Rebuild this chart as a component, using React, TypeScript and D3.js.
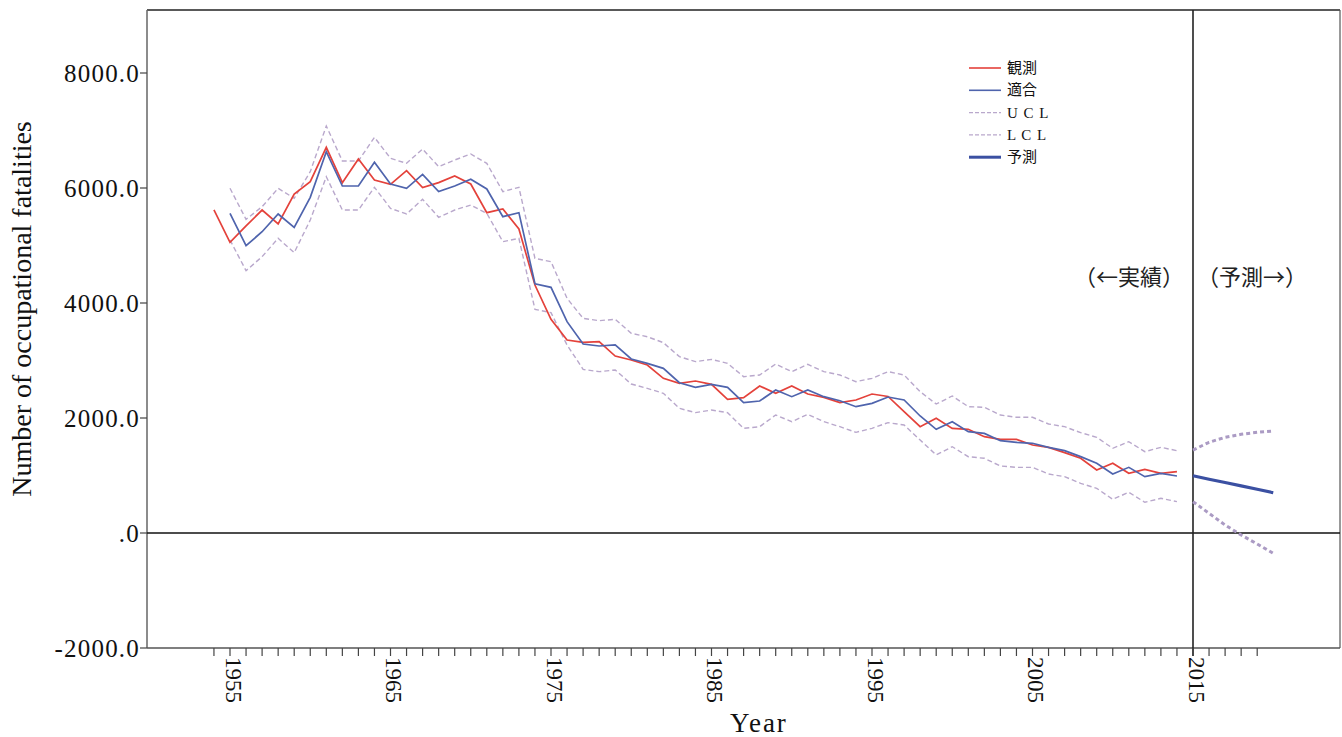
import React from "react";
import * as d3 from "d3";

const obsStart = 1954;
const observed = [
  5620, 5055, 5340, 5617, 5374, 5896, 6110, 6707, 6093, 6504, 6139, 6064, 6301, 6006, 6093, 6209, 6070,
  5571, 5635, 5287, 4313, 3716, 3357, 3316, 3328, 3078, 3009, 2922, 2690, 2603, 2643, 2586, 2325, 2354,
  2557, 2429, 2557, 2417, 2359, 2267, 2313, 2417, 2375, 2110, 1849, 1994, 1820, 1803, 1675, 1629, 1629,
  1530, 1490, 1397, 1299, 1096, 1212, 1038, 1107, 1038, 1067,
];
const fitStart = 1955;
const fitted = [
  5560, 4997, 5240, 5548, 5316, 5838, 6632, 6035, 6035, 6447, 6070, 5995, 6238, 5937, 6035, 6151, 5983,
  5501, 5571, 4335, 4273, 3675, 3287, 3252, 3270, 3026, 2951, 2864, 2614, 2533, 2586, 2533, 2267, 2296,
  2487, 2371, 2487, 2371, 2301, 2197, 2255, 2365, 2313, 2035, 1803, 1936, 1762, 1733, 1606, 1577, 1560,
  1490, 1432, 1328, 1212, 1026, 1142, 980, 1038, 991,
];
const ucl = [
  5995, 5455, 5675, 5995, 5821, 6284, 7078, 6470, 6470, 6881, 6516, 6429, 6678, 6371, 6487, 6591, 6429,
  5937, 6012, 4777, 4719, 4081, 3733, 3693, 3716, 3472, 3414, 3310, 3067, 2980, 3020, 2951, 2719, 2748,
  2939, 2806, 2933, 2806, 2748, 2632, 2690, 2806, 2748, 2458, 2243, 2383, 2197, 2186, 2052, 2012, 2012,
  1896, 1849, 1745, 1664, 1473, 1588, 1414, 1490, 1432,
];
const lcl = [
  5096, 4562, 4806, 5125, 4875, 5443, 6197, 5617, 5617, 6012, 5646, 5548, 5803, 5490, 5617, 5704, 5559,
  5067, 5125, 3890, 3832, 3270, 2846, 2806, 2835, 2591, 2516, 2429, 2168, 2093, 2139, 2093, 1820, 1849,
  2052, 1936, 2064, 1936, 1849, 1751, 1820, 1919, 1878, 1617, 1357, 1501, 1327, 1299, 1165, 1142, 1142,
  1026, 980, 864, 777, 586, 708, 534, 603, 545,
];
const fcStart = 2015;
const forecast = [995, 935, 878, 820, 760, 700];
const fcUcl = [1443, 1577, 1664, 1716, 1751, 1774];
const fcLcl = [545, 342, 139, -35, -191, -354];

const yTicks = [8000, 6000, 4000, 2000, 0, -2000];
const yTickLabels = ["8000.0", "6000.0", "4000.0", "2000.0", ".0", "-2000.0"];
const xLabelYears = [1955, 1965, 1975, 1985, 1995, 2005, 2015];
const tickYears = d3.range(1954, 2020);

const legendItems = [
  { label: "観測", color: "#e4423b", dash: "", width: 1.6 },
  { label: "適合", color: "#4f64ad", dash: "", width: 1.6 },
  { label: "U C L", color: "#b9a8cc", dash: "4,2", width: 1.4 },
  { label: "L C L", color: "#b9a8cc", dash: "4,2", width: 1.4 },
  { label: "予測", color: "#3b50a2", dash: "", width: 3 },
];

const RED = "#e4423b";
const BLUE = "#4f64ad";
const BAND = "#b9a8cc";
const FC = "#3b50a2";
const FCBAND = "#ab9bc4";

export default function App() {
  const left = 147, right = 1340, top = 10, bottom = 648;
  const x = d3.scaleLinear().domain([1955, 2015]).range([230, 1193]);
  const y = d3.scaleLinear().domain([-2000, 8000]).range([648, 73]);

  const mk = (start: number, vals: number[]) =>
    d3.line<number>().x((_, i) => x(start + i)).y((v) => y(v))(vals) || "";

  const serif = "'Liberation Serif', 'DejaVu Serif', serif";
  const legendFont = "'Liberation Serif', 'Noto Sans CJK JP', serif";
  const cjk = "'Noto Sans CJK JP', sans-serif";

  return (
    <svg width={1342} height={737} style={{ position: "absolute", left: 0, top: 0, background: "#fff" }}>
      <rect x={0} y={0} width={1342} height={737} fill="#fff" />
      {/* frame */}
      <line x1={left} y1={top} x2={right} y2={top} stroke="#222" strokeWidth={1.5} />
      <line x1={right} y1={top} x2={right} y2={bottom} stroke="#555" strokeWidth={1.2} />
      <line x1={left} y1={top} x2={left} y2={bottom} stroke="#666" strokeWidth={1.5} />
      <line x1={left} y1={bottom} x2={right} y2={bottom} stroke="#555" strokeWidth={1.5} />
      {/* zero line */}
      <line x1={left} y1={y(0)} x2={right} y2={y(0)} stroke="#111" strokeWidth={1.5} />
      {/* divider */}
      <line x1={x(2015)} y1={top} x2={x(2015)} y2={bottom + 8} stroke="#222" strokeWidth={1.6} />

      {/* y ticks */}
      {yTicks.map((t, i) => (
        <g key={t}>
          <line x1={left - 7} x2={left} y1={y(t)} y2={y(t)} stroke="#444" strokeWidth={1.2} />
          <text x={left - 7} y={y(t)} textAnchor="end" dominantBaseline="central" fontFamily={serif} fontSize={25} letterSpacing={1.2} fill="#111">
            {yTickLabels[i]}
          </text>
        </g>
      ))}
      {/* x ticks */}
      {tickYears.map((yr) => (
        <line key={yr} x1={x(yr)} x2={x(yr)} y1={bottom} y2={bottom + 8} stroke="#444" strokeWidth={1.2} />
      ))}
      {xLabelYears.map((yr) => (
        <text key={yr} transform={`translate(${x(yr) + 3},${bottom + 9}) rotate(90)`} dominantBaseline="central" fontFamily={serif} fontSize={23} fill="#111">
          {yr}
        </text>
      ))}
      <text x={759} y={732} textAnchor="middle" fontFamily={serif} fontSize={27} letterSpacing={2} fill="#111">
        Year
      </text>
      <text transform={`translate(31,309) rotate(-90)`} textAnchor="middle" fontFamily={serif} fontSize={28} fill="#111">
        Number of occupational fatalities
      </text>

      {/* bands */}
      <path d={mk(fitStart, ucl)} fill="none" stroke={BAND} strokeWidth={1.4} strokeDasharray="5,3" />
      <path d={mk(fitStart, lcl)} fill="none" stroke={BAND} strokeWidth={1.4} strokeDasharray="5,3" />
      {/* observed & fitted */}
      <path d={mk(obsStart, observed)} fill="none" stroke={RED} strokeWidth={1.7} />
      <path d={mk(fitStart, fitted)} fill="none" stroke={BLUE} strokeWidth={1.7} />
      {/* forecast */}
      <path d={mk(fcStart, fcUcl)} fill="none" stroke={FCBAND} strokeWidth={3} strokeDasharray="4,3" />
      <path d={mk(fcStart, fcLcl)} fill="none" stroke={FCBAND} strokeWidth={3} strokeDasharray="4,3" />
      <path d={mk(fcStart, forecast)} fill="none" stroke={FC} strokeWidth={3.2} />

      {/* annotations */}
      <text x={1129} y={275} textAnchor="middle" dominantBaseline="central" fontFamily={cjk} fontSize={22} fill="#222">
        （←実績）
      </text>
      <text x={1252} y={275} textAnchor="middle" dominantBaseline="central" fontFamily={cjk} fontSize={22} fill="#222">
        （予測→）
      </text>

      {/* legend */}
      {legendItems.map((it, i) => {
        const ly = 68 + i * 22.3;
        return (
          <g key={it.label}>
            <line x1={969} x2={1001} y1={ly} y2={ly} stroke={it.color} strokeWidth={it.width} strokeDasharray={it.dash} />
            <text x={1007} y={ly} dominantBaseline="central" fontFamily={legendFont} fontSize={15} letterSpacing={it.label.includes("C") ? 1 : 0} fill="#111">
              {it.label}
            </text>
          </g>
        );
      })}
    </svg>
  );
}
